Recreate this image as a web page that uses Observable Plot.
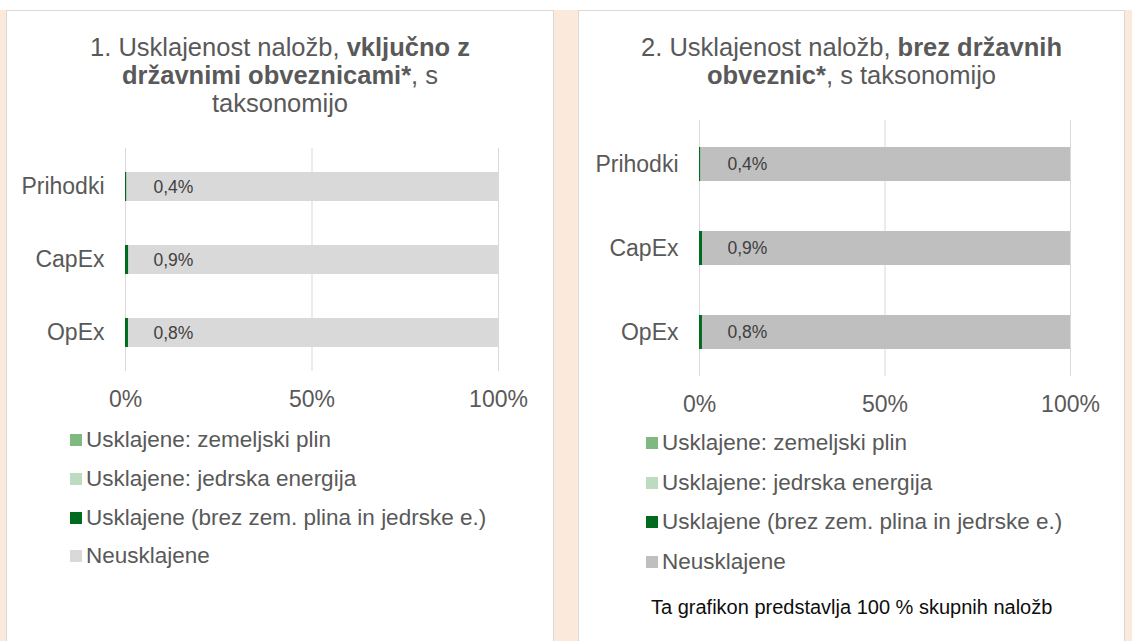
<!DOCTYPE html>
<html><head><meta charset="utf-8">
<script src="https://cdn.jsdelivr.net/npm/d3@7"></script>
<script src="https://cdn.jsdelivr.net/npm/@observablehq/plot@0.6"></script>
<style>
body{margin:0;width:1132px;height:641px;background:#fff;position:relative;overflow:hidden;font-family:"Liberation Sans",Arial,sans-serif;}
.bg{position:absolute;left:0;top:10px;width:1132px;height:631px;background:#fbe9db;}
.panel{position:absolute;top:10px;height:640px;background:#fff;border:1px solid #d9d9d9;box-sizing:border-box;}
.title{position:absolute;text-align:center;font-size:25.5px;line-height:28px;color:#595959;}
.leg{position:absolute;font-size:22.5px;color:#595959;white-space:nowrap;line-height:24px;}
.sw{position:absolute;width:12px;height:12px;}
.chart{position:absolute;}
.foot{position:absolute;font-size:20px;line-height:22px;color:#0d0d0d;white-space:nowrap;}
</style></head><body>
<div class="bg"></div>
<div class="panel" style="left:6px;width:548px;"></div>
<div class="panel" style="left:578px;width:547px;"></div>
<div class="title" style="left:6px;width:548px;top:33px;">1. Usklajenost naložb, <b>vključno z<br>državnimi obveznicami*</b>, s<br>taksonomijo</div>
<div class="title" style="left:578px;width:547px;top:33px;">2. Usklajenost naložb, <b>brez državnih<br>obveznic*</b>, s taksonomijo</div>
<div id="c1" class="chart" style="left:6px;top:130px;"></div>
<div id="c2" class="chart" style="left:578px;top:100px;"></div>
<div id="legends"></div>
<div class="foot" style="left:651px;top:596px;">Ta grafikon predstavlja 100 % skupnih naložb</div>
<script>
// ---- data ----
const categories = ["Prihodki", "CapEx", "OpEx"];
const seriesNames = [
  "Usklajene: zemeljski plin",
  "Usklajene: jedrska energija",
  "Usklajene (brez zem. plina in jedrske e.)",
  "Neusklajene"
];
// Chart 1: vključno z državnimi obveznicami (%)
const gas1 = [0, 0, 0];
const nuclear1 = [0, 0, 0];
const aligned1 = [0.4, 0.9, 0.8];
const unaligned1 = [99.6, 99.1, 99.2];
const labels1 = ["0,4%", "0,9%", "0,8%"];
// Chart 2: brez državnih obveznic (%)
const gas2 = [0, 0, 0];
const nuclear2 = [0, 0, 0];
const aligned2 = [0.4, 0.9, 0.8];
const unaligned2 = [99.6, 99.1, 99.2];
const labels2 = ["0,4%", "0,9%", "0,8%"];
// ticks
const tickValues = [0, 50, 100];
const tickLabels = ["0%", "50%", "100%"];
const colors1 = ["#80b882", "#bddcbf", "#006a1e", "#d9d9d9"];
const colors2 = ["#80b882", "#bddcbf", "#006a1e", "#bfbfbf"];

function rowsOf(series) {
  const rows = [];
  categories.forEach((c, i) => {
    series.forEach((s, k) => rows.push({cat: c, series: seriesNames[k], value: s[i]}));
  });
  return rows;
}

function makeChart(series, labels, colors, o) {
  const rows = rowsOf(series);
  const labelRows = categories.map((c, i) => ({cat: c, label: labels[i]}));
  return Plot.plot({
    width: o.width, height: o.height,
    marginLeft: o.ml, marginRight: o.mr, marginTop: o.mt, marginBottom: o.mb,
    style: {fontFamily: '"Liberation Sans", Arial, sans-serif', fontSize: "23px", color: "#595959", background: "transparent"},
    x: {domain: [0, 100]},
    y: {domain: categories, range: o.yRange, padding: o.pad},
    color: {domain: seriesNames, range: colors},
    marks: [
      Plot.gridX(tickValues, {stroke: "#d9d9d9", strokeOpacity: 1, strokeWidth: 1}),
      Plot.barX(rows, Plot.stackX({x: "value", y: "cat", fill: "series"})),
      Plot.text(labelRows, {y: "cat", text: "label", frameAnchor: "left", dx: o.ldx, textAnchor: "start", fontSize: 17.5, fill: "#404040"}),
      Plot.axisX({ticks: tickValues, tickFormat: d => tickLabels[tickValues.indexOf(d)], tickSize: 0, tickPadding: o.xpad, label: null, fontSize: 23}),
      Plot.axisY({tickSize: 0, tickPadding: 21, label: null, fontSize: 23})
    ]
  });
}

document.getElementById("c1").append(makeChart(
  [gas1, nuclear1, aligned1, unaligned1], labels1, colors1,
  {width: 547, height: 290, ml: 119, mr: 55, mt: 18, mb: 49, yRange: [-3, 262], pad: 0.605, ldx: 28, xpad: 19}
));
document.getElementById("c2").append(makeChart(
  [gas2, nuclear2, aligned2, unaligned2], labels2, colors2,
  {width: 546, height: 320, ml: 121, mr: 54, mt: 20, mb: 44, yRange: [-2.5, 299.5], pad: 0.595, ldx: 28, xpad: 19}
));

// legends
function legend(colors, x, y0, step) {
  const root = document.getElementById("legends");
  seriesNames.forEach((s, k) => {
    const cy = y0 + k * step;
    const sw = document.createElement("div");
    sw.className = "sw";
    sw.style.left = x + "px";
    sw.style.top = (cy - 6) + "px";
    sw.style.background = colors[k];
    root.append(sw);
    const t = document.createElement("div");
    t.className = "leg";
    t.style.left = (x + 16) + "px";
    t.style.top = (cy - 12) + "px";
    t.textContent = s;
    root.append(t);
  });
}
legend(colors1, 70, 440, 38.8);
legend(colors2, 646, 443, 39.7);
</script>
</body></html>
